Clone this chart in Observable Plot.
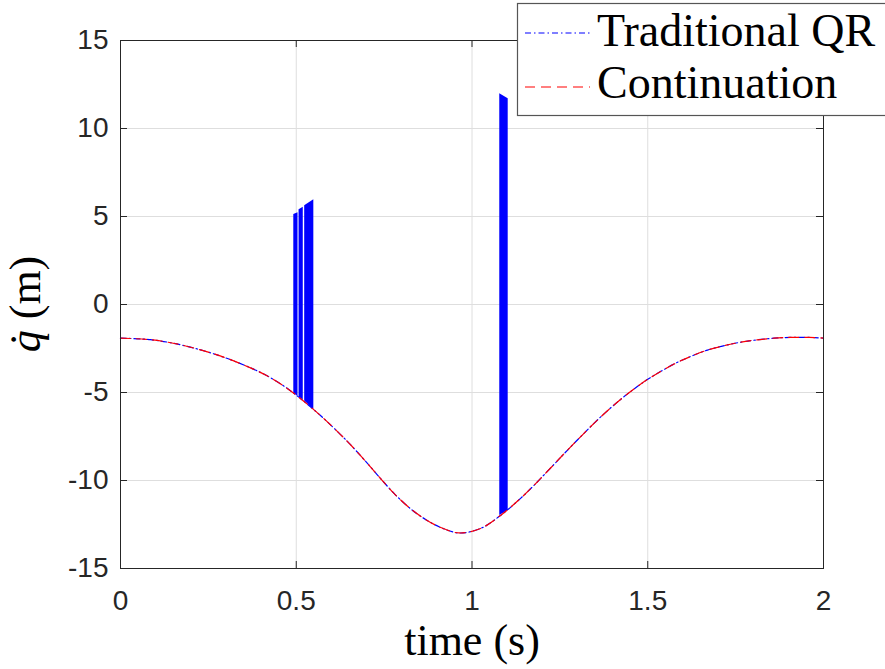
<!DOCTYPE html>
<html><head><meta charset="utf-8">
<script src="https://cdn.jsdelivr.net/npm/d3@7"></script>
<script src="https://cdn.jsdelivr.net/npm/@observablehq/plot@0.6"></script>
<style>body{margin:0;background:#fff} #chart{position:relative;width:885px;height:669px;overflow:hidden}</style>
</head><body><div id="chart"></div>
<script>
// base curve (both series coincide outside the bursts)
const timeS = [0, 0.085, 0.15, 0.228, 0.30, 0.37, 0.417, 0.46, 0.498, 0.569, 0.626, 0.655, 0.70, 0.74, 0.78, 0.826, 0.87, 0.911, 0.963, 1.025, 1.082, 1.139, 1.177, 1.225, 1.272, 1.32, 1.367, 1.42, 1.461, 1.50, 1.575, 1.62, 1.67, 1.765, 1.86, 1.907, 1.96, 2.0];
const qdot  = [-1.91, -2.0, -2.2, -2.58, -3.04, -3.6, -4.05, -4.57, -5.12, -6.31, -7.39, -7.98, -8.97, -9.89, -10.77, -11.62, -12.24, -12.67, -12.98, -12.72, -11.97, -11.0, -10.26, -9.26, -8.27, -7.29, -6.37, -5.44, -4.80, -4.25, -3.38, -2.97, -2.59, -2.14, -1.91, -1.87, -1.87, -1.91];
// bursts of the Traditional QR series (sign flipping between +q and -q)
const burstGroup  = ["a", "a", "b", "b", "c", "c", "d", "d"];
const burstT      = [0.493, 0.505, 0.508, 0.520, 0.524, 0.550, 1.079, 1.103];
const burstTop    = [5.11, 5.21, 5.38, 5.53, 5.61, 5.95, 11.97, 11.69];
const burstBottom = [-5.06, -5.22, -5.26, -5.44, -5.48, -6.0, -11.99, -11.70];
const xTicks = [0, 0.5, 1, 1.5, 2];
const yTicks = [-15, -10, -5, 0, 5, 10, 15];
const seriesNames = ["Traditional QR", "Continuation"];
const seriesColors = ["#0000ff", "#ff0000"];
const seriesDash = ["6,3,1.5,3", "10,6"];
const xLabel = "time (s)";

const curve = timeS.map((t, i) => ({t, v: qdot[i]}));
const bursts = burstT.map((t, i) => ({g: burstGroup[i], t, top: burstTop[i], bottom: burstBottom[i]}));

const W = 885, H = 669, mL = 120, mR = 62, mT = 40, mB = 101;
const innerW = W - mL - mR, innerH = H - mT - mB, tk = 7;
const axisColor = "#262626";

const plot = Plot.plot({
  width: W, height: H, marginLeft: mL, marginRight: mR, marginTop: mT, marginBottom: mB,
  x: {domain: [0, 2], label: null},
  y: {domain: [-15, 15], label: null},
  style: {fontFamily: "'Liberation Sans', Arial, sans-serif", color: axisColor, background: "white", overflow: "visible"},
  marks: [
    Plot.gridX(xTicks, {stroke: "#dedede", strokeOpacity: 1}),
    Plot.gridY(yTicks, {stroke: "#dedede", strokeOpacity: 1}),
    Plot.lineY(curve, {x: "t", y: "v", stroke: seriesColors[0], strokeWidth: 1.2, strokeDasharray: seriesDash[0], curve: "catmull-rom"}),
    Plot.areaY(bursts, {x: "t", y1: "bottom", y2: "top", z: "g", fill: seriesColors[0]}),
    Plot.lineY(curve, {x: "t", y: "v", stroke: seriesColors[1], strokeWidth: 1.2, strokeDasharray: seriesDash[1], curve: "catmull-rom"}),
    Plot.frame({stroke: axisColor}),
    Plot.ruleX(xTicks, {x: d => d, insetTop: innerH - tk, stroke: axisColor}),
    Plot.ruleX(xTicks, {x: d => d, insetBottom: innerH - tk, stroke: axisColor}),
    Plot.ruleY(yTicks, {y: d => d, insetRight: innerW - tk, stroke: axisColor}),
    Plot.ruleY(yTicks, {y: d => d, insetLeft: innerW - tk, stroke: axisColor}),
    Plot.axisX(xTicks, {tickSize: 0, tickPadding: 22, fontSize: 28, tickFormat: d => String(d), label: null}),
    Plot.axisY(yTicks, {tickSize: 0, tickPadding: 12, fontSize: 28, tickFormat: d => String(d), label: null}),
    Plot.text([xLabel], {frameAnchor: "bottom", dy: 86, fontFamily: "'Liberation Serif', serif", fontSize: 44, fill: "black"})
  ]
});
document.getElementById("chart").appendChild(plot);

const svg = d3.select(plot);
// y label
const yl = svg.append("text")
  .attr("transform", `translate(40,${mT + innerH / 2}) rotate(-90)`)
  .attr("text-anchor", "middle")
  .attr("font-family", "'Liberation Serif', serif")
  .attr("font-size", 44).attr("fill", "black");
yl.append("tspan").attr("font-style", "italic").text("q\u0307");
yl.append("tspan").text(" (m)");

// legend
const lg = svg.append("g").attr("text-anchor", "start");
lg.append("rect").attr("x", 517.5).attr("y", 3.5).attr("width", 420).attr("height", 112)
  .attr("fill", "white").attr("stroke", "#555").attr("stroke-width", 1.2);
seriesNames.forEach((name, i) => {
  const cy = i === 0 ? 33 : 87;
  lg.append("line").attr("x1", 525).attr("x2", 590).attr("y1", cy).attr("y2", cy)
    .attr("stroke", seriesColors[i]).attr("stroke-width", 1.2).attr("stroke-dasharray", seriesDash[i]);
  lg.append("text").attr("x", 597).attr("y", i === 0 ? 46 : 98).attr("text-anchor", "start")
    .attr("font-family", "'Liberation Serif', serif").attr("font-size", 46).attr("fill", "black").text(name);
});
</script>
</body></html>
